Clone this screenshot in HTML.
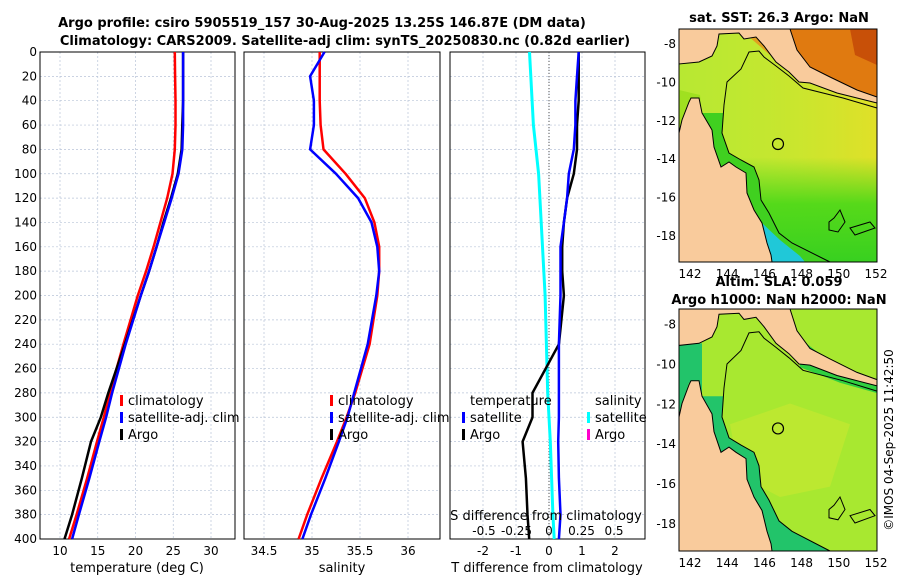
<!DOCTYPE html>
<html><head><meta charset="utf-8"><style>
body{margin:0;background:#fff;font-family:"Liberation Sans","DejaVu Sans",sans-serif}
svg text{font-family:"DejaVu Sans","Liberation Sans",sans-serif}
</style></head><body>
<svg id="s" width="900" height="580" xmlns="http://www.w3.org/2000/svg">
<defs>
<linearGradient id="sstb" x1="0" y1="0" x2="0" y2="1"><stop offset="0.55" stop-color="#48d818" stop-opacity="0"/><stop offset="0.75" stop-color="#48d818" stop-opacity="0.9"/><stop offset="1" stop-color="#38d020"/></linearGradient>
<linearGradient id="sstr" x1="0" y1="0" x2="1" y2="0"><stop offset="0" stop-color="#c8ea30" stop-opacity="0"/><stop offset="1" stop-color="#e0e028"/></linearGradient>
</defs>
<g id="titles">
<text x="322" y="27" text-anchor="middle" font-size="13" font-weight="bold">Argo profile: csiro 5905519_157 30-Aug-2025 13.25S 146.87E (DM data)</text>
<text x="345" y="45" text-anchor="middle" font-size="13" font-weight="bold">Climatology: CARS2009. Satellite-adj clim: synTS_20250830.nc (0.82d earlier)</text>
<text x="779" y="22" text-anchor="middle" font-size="13" font-weight="bold">sat. SST: 26.3 Argo: NaN</text>
<text x="779" y="286" text-anchor="middle" font-size="13" font-weight="bold">Altim. SLA: 0.059</text>
<text x="779" y="304" text-anchor="middle" font-size="13" font-weight="bold">Argo h1000: NaN h2000: NaN</text>
<text transform="translate(893,440) rotate(-90)" text-anchor="middle" font-size="12">©IMOS 04-Sep-2025 11:42:50</text>
</g>
<g id="p1"></g><g id="p2"></g><g id="p3"></g><g id="m1"></g><g id="m2"></g>
</svg>
<script>
const depths=[0,20,40,60,80,100,120,140,160,180,200,240,280,300,320,350,380,400];
const tClim=[25.2,25.25,25.3,25.3,25.2,24.9,24.2,23.3,22.4,21.4,20.3,18.4,16.6,15.8,14.9,13.6,12.2,11.2];
const tSat=[26.3,26.3,26.3,26.3,26.2,25.7,24.8,23.8,22.8,21.8,20.7,18.7,16.9,16.1,15.2,13.9,12.5,11.6];
const tArgo=[26.3,26.3,26.3,26.2,26.1,25.6,24.7,23.7,22.8,21.8,20.7,18.6,16.4,15.4,14.1,12.9,11.6,10.6];
const sClim=[35.08,35.08,35.08,35.09,35.12,35.35,35.55,35.65,35.7,35.7,35.68,35.6,35.45,35.36,35.26,35.1,34.95,34.86];
const sSat=[35.13,34.98,35.02,35.02,34.98,35.25,35.48,35.62,35.68,35.7,35.67,35.58,35.44,35.37,35.28,35.14,34.99,34.9];
const dTSat=[0.9,0.85,0.8,0.8,0.75,0.6,0.55,0.45,0.35,0.35,0.35,0.3,0.3,0.3,0.28,0.3,0.35,0.3];
const dTArgo=[0.9,0.9,0.9,0.85,0.85,0.75,0.55,0.45,0.4,0.4,0.45,0.3,-0.5,-0.5,-0.8,-0.7,-0.65,-0.6];
const dSSat=[-0.15,-0.14,-0.13,-0.12,-0.1,-0.08,-0.07,-0.06,-0.05,-0.04,-0.03,-0.02,-0.01,0,0.01,0.02,0.03,0.04];
const yTicks=[0,20,40,60,80,100,120,140,160,180,200,220,240,260,280,300,320,340,360,380,400];
const t1Ticks=[10,15,20,25,30],s2Ticks=[34.5,35,35.5,36],t3Ticks=[-2,-1,0,1,2],s3Ticks=[-0.5,-0.25,0,0.25,0.5];
const s3Labels=['-0.5','-0.25','0','0.25','0.5'];
const NS='http://www.w3.org/2000/svg';
function mk(p,tag,a,txt){const e=document.createElementNS(NS,tag);for(const k in a)e.setAttribute(k,a[k]);if(txt!==undefined)e.textContent=txt;p.appendChild(e);return e;}
const Y0=52,Y1=539;const yS=d=>Y0+d*(Y1-Y0)/400;
function frame(g,x0,x1,xs,ticks,labels){
  for(const d of yTicks){const l=mk(g,'line',{x1:x0,x2:x1,y1:yS(d),y2:yS(d),stroke:'#b8c4d8','stroke-dasharray':'2,2','stroke-width':0.7});}
  ticks.forEach((t,i)=>{const X=xs(t);const l=mk(g,'line',{x1:X,x2:X,y1:Y0,y2:Y1,stroke:'#b8c4d8','stroke-dasharray':'2,2','stroke-width':0.7});
    const tx=mk(g,'text',{x:X,y:555,'text-anchor':'middle','font-size':12},labels[i]);});
  const r=mk(g,'rect',{x:x0,y:Y0,width:x1-x0,height:Y1-Y0,fill:'none',stroke:'#000','stroke-width':1});
}
function line(g,vals,xs,col,w,name){const pts=vals.map((v,i)=>xs(v).toFixed(1)+','+yS(depths[i]).toFixed(1)).join(' ');const p=mk(g,'polyline',{points:pts,fill:'none',stroke:col,'stroke-width':w,'stroke-linejoin':'round'});}
function legend(g,x,y,items){items.forEach((it,i)=>{const yy=y+i*17;const m=mk(g,'rect',{x:x,y:yy-10,width:3,height:11,fill:it[1]});const t=mk(g,'text',{x:x+8,y:yy,'font-size':13},it[0]);});}
// panel 1
const g1=document.getElementById('p1');
const x1=t=>60+(t-10)*7.55;
frame(g1,40,235,x1,t1Ticks,t1Ticks.map(String));
yTicks.forEach(d=>{const t=mk(g1,'text',{x:37,y:yS(d)+4,'text-anchor':'end','font-size':12},String(d));});
line(g1,tClim,x1,'#f00',2.5,'temp-climatology-line');line(g1,tArgo,x1,'#000',2.5,'temp-argo-line');line(g1,tSat,x1,'#00f',2.5,'temp-satellite-line');
mk(g1,'text',{x:137,y:572,'text-anchor':'middle','font-size':13},'temperature (deg C)');
legend(g1,120,405,[['climatology','#f00'],['satellite-adj. clim','#00f'],['Argo','#000']]);
// panel 2
const g2=document.getElementById('p2');
const x2=s=>264+(s-34.5)*96;
frame(g2,244,440,x2,s2Ticks,['34.5','35','35.5','36']);
line(g2,sClim,x2,'#f00',2.5,'sal-climatology-line');line(g2,sSat,x2,'#00f',2.5,'sal-satellite-line');
mk(g2,'text',{x:342,y:572,'text-anchor':'middle','font-size':13},'salinity');
legend(g2,330,405,[['climatology','#f00'],['satellite-adj. clim','#00f'],['Argo','#000']]);
// panel 3
const g3=document.getElementById('p3');
const x3=t=>549+t*33,x3s=s=>549+s*130;
frame(g3,450,645,x3,t3Ticks,t3Ticks.map(String));
mk(g3,'line',{x1:549,x2:549,y1:Y0,y2:Y1,stroke:'#555','stroke-dasharray':'1,2','stroke-width':1});
line(g3,dSSat,x3s,'#0ff',3,'sal-diff-satellite-line');line(g3,dTArgo,x3,'#000',2.5,'temp-diff-argo-line');line(g3,dTSat,x3,'#00f',2.5,'temp-diff-satellite-line');
mk(g3,'text',{x:547,y:572,'text-anchor':'middle','font-size':13},'T difference from climatology');
mk(g3,'text',{x:546,y:520,'text-anchor':'middle','font-size':13},'S difference from climatology');
s3Ticks.forEach((s,i)=>{const t=mk(g3,'text',{x:x3s(s),y:535,'text-anchor':'middle','font-size':12},s3Labels[i]);});
mk(g3,'text',{x:470,y:405,'font-size':13},'temperature');
mk(g3,'text',{x:595,y:405,'font-size':13},'salinity');
legend(g3,462,422,[['satellite','#00f'],['Argo','#000']]);
legend(g3,587,422,[['satellite','#0ff'],['Argo','#f0c']]);
// maps
const lonTicks=[142,144,146,148,150,152],latTicks=[-8,-10,-12,-14,-16,-18];
const coastPts=[[679,133],[682,120],[689,102],[691,98],[699,98],[702,113],[712,130],[714,147],[721,167],[729,162],[736,167],[746,173],[747,193],[754,210],[762,223],[767,243],[771,255],[772,262],[679,262]];
const shelfPts=[[830,262],[792,243],[779,233],[769,213],[761,200],[759,180],[754,167],[741,160],[729,153],[722,133],[724,105],[727,82],[741,69],[749,52],[759,51],[764,57],[776,66],[789,76],[803,88],[843,98],[877,108]];
const innerPts=[[702,113],[712,130],[714,147],[721,167],[729,162],[736,167],[746,173],[747,193],[754,210],[762,223],[767,243],[771,255],[772,262],[830,262],[792,243],[779,233],[769,213],[761,200],[759,180],[754,167],[741,160],[729,153],[722,133],[723,113]];
const northLand=[[679,29],[790,29],[797,50],[810,67],[830,77],[857,90],[877,97],[877,103],[837,93],[810,83],[799,82],[789,72],[776,62],[764,46],[756,37],[744,39],[739,33],[719,34],[717,46],[712,56],[699,62],[679,64]];
function map(id,y0,y1,name,fill,extra){
  const g=document.getElementById(id);
  const sy=(y1-y0)/233;const P=pts=>pts.map(p=>p[0]+','+(y0+(p[1]-29)*sy).toFixed(1)).join(' ');
  mk(g,'rect',{x:679,y:y0,width:198,height:y1-y0,fill:fill});
  extra(g,P);
  mk(g,'polygon',{points:P(coastPts),fill:'#f9cb9c',stroke:'#000','stroke-width':1});
  mk(g,'polygon',{points:P(northLand),fill:'#f9cb9c',stroke:'#000','stroke-width':1});
  mk(g,'polyline',{points:P(shelfPts),fill:'none',stroke:'#000','stroke-width':1});
  mk(g,'polygon',{points:P([[829,222],[834,218],[840,210],[845,222],[838,232],[829,230]]),fill:'none',stroke:'#000','stroke-width':1});
  mk(g,'polygon',{points:P([[850,228],[870,222],[875,228],[855,235]]),fill:'none',stroke:'#000','stroke-width':1});
  const c=mk(g,'circle',{cx:778,cy:y0+(144-29)*sy,r:5.5,fill:'none',stroke:'#000','stroke-width':1.2});
  mk(g,'rect',{x:679,y:y0,width:198,height:y1-y0,fill:'none',stroke:'#000','stroke-width':1});
  lonTicks.forEach(l=>{const X=690+(l-142)*18.6;const t=mk(g,'text',{x:X,y:y1+16,'text-anchor':'middle','font-size':12},String(l));});
  latTicks.forEach(l=>{const Y=y0+(15+(-8-l)*19.2)*sy;const t=mk(g,'text',{x:676,y:Y+4,'text-anchor':'end','font-size':12},String(l));});
}
map('m1',29,262,'sst-map','#b8e832',(g,P)=>{
  mk(g,'rect',{x:679,y:29,width:198,height:233,fill:'url(#sstr)'});
  mk(g,'rect',{x:679,y:29,width:198,height:233,fill:'url(#sstb)'});
  mk(g,'polygon',{points:P(innerPts),fill:'#40d020'});
  mk(g,'polygon',{points:P([[679,90],[700,95],[702,113],[689,110],[679,130]]),fill:'#a0e020'});
  mk(g,'polygon',{points:P([[740,29],[790,29],[797,50],[810,67],[790,70],[770,55]]),fill:'#e0a020'});
  mk(g,'polygon',{points:P([[790,29],[877,29],[877,97],[857,90],[830,77],[810,67],[797,50]]),fill:'#e07a10'});
  mk(g,'polygon',{points:P([[850,29],[877,29],[877,65],[855,55]]),fill:'#c85008'});
  mk(g,'polygon',{points:P([[762,223],[780,240],[800,256],[805,262],[772,262],[767,243]]),fill:'#20c8d8'});
});
map('m2',309,551,'sla-map','#a8e830',(g,P)=>{
  mk(g,'polygon',{points:P([[730,140],[790,120],[850,140],[830,200],[780,210],[740,190]]),fill:'#bce830'});
  mk(g,'polygon',{points:P(innerPts),fill:'#22c46a'});
  mk(g,'polygon',{points:P([[679,64],[702,62],[702,113],[689,100],[679,130]]),fill:'#22c46a'});
  mk(g,'polygon',{points:P([[800,88],[877,108],[877,29],[800,29]]),fill:'#a8e830'});
  mk(g,'polygon',{points:P([[797,55],[830,80],[877,100],[877,110],[840,100],[800,85]]),fill:'#30d040'});
});
</script>
</body></html>
